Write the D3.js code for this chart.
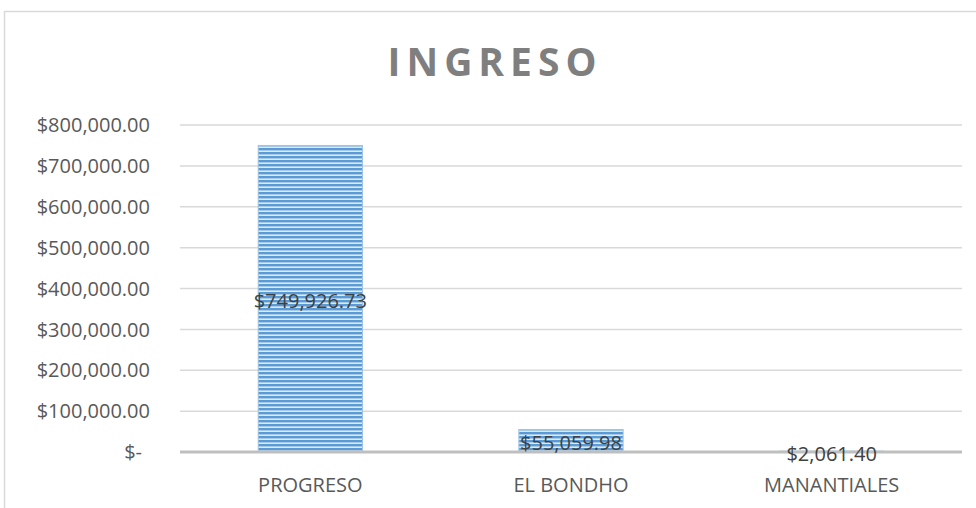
<!DOCTYPE html>
<html>
<head>
<meta charset="utf-8">
<script src="https://cdn.jsdelivr.net/npm/d3@7"></script>
<style>
  body { margin: 0; background: #fff; }
  text { font-family: "Open Sans", "Noto Sans", sans-serif; }
</style>
</head>
<body>
<div id="chart"></div>
<script>
// data
var categories = ["PROGRESO", "EL BONDHO", "MANANTIALES"];
var values = [749926.73, 55059.98, 2061.40];
var yTicks = [0, 100000, 200000, 300000, 400000, 500000, 600000, 700000, 800000];

var W = 976, H = 508;
var margin = { top: 125, right: 14, bottom: 56, left: 180 };

var svg = d3.select("#chart").append("svg")
  .attr("width", W)
  .attr("height", H);

// chart border (only top + left show)
svg.append("rect")
  .attr("x", 4.5).attr("y", 11.5)
  .attr("width", W + 20).attr("height", H + 20)
  .attr("fill", "none")
  .attr("stroke", "#d9d9d9")
  .attr("stroke-width", 1.5);

// striped fill
var defs = svg.append("defs");
var pat = defs.append("pattern")
  .attr("id", "stripes")
  .attr("patternUnits", "userSpaceOnUse")
  .attr("width", 8).attr("height", 4);
pat.append("rect").attr("width", 8).attr("height", 4).attr("fill", "#dce9f6");
pat.append("rect").attr("y", 0).attr("width", 8).attr("height", 2.4).attr("fill", "#5b9bd5");

var x = d3.scaleBand()
  .domain(categories)
  .range([margin.left, W - margin.right])
  .paddingInner(0.6)
  .paddingOuter(0.3);

var y = d3.scaleLinear()
  .domain([0, 800000])
  .range([H - margin.bottom, margin.top]);

// title
svg.append("text")
  .attr("x", 495).attr("y", 76)
  .attr("text-anchor", "middle")
  .attr("fill", "#7f7f7f")
  .style("font-size", "39px")
  .style("font-weight", "bold")
  .style("letter-spacing", "6px")
  .text("INGRESO");

// gridlines
svg.append("g")
  .selectAll("line")
  .data(yTicks.filter(function (d) { return d > 0; }))
  .enter().append("line")
  .attr("x1", margin.left).attr("x2", W - margin.right)
  .attr("y1", function (d) { return y(d); })
  .attr("y2", function (d) { return y(d); })
  .attr("stroke", "#d9d9d9")
  .attr("stroke-width", 1.5);

// y axis labels
var fmt = d3.format(",.2f");
svg.append("g")
  .selectAll("text")
  .data(yTicks)
  .enter().append("text")
  .attr("x", function (d) { return d === 0 ? 142 : 150; })
  .attr("y", function (d) { return y(d); })
  .attr("dy", "0.36em")
  .attr("text-anchor", "end")
  .attr("fill", "#595959")
  .style("font-size", "20px")
  .text(function (d) { return d === 0 ? "$-" : "$" + fmt(d); });

// bars
svg.append("g")
  .selectAll("rect")
  .data(values)
  .enter().append("rect")
  .attr("x", function (d, i) { return x(categories[i]); })
  .attr("y", function (d) { return y(d); })
  .attr("width", x.bandwidth())
  .attr("height", function (d) { return y(0) - y(d); })
  .attr("fill", "url(#stripes)")
  .attr("stroke", "#9dc3e6")
  .attr("stroke-width", 1);

// baseline
svg.append("line")
  .attr("x1", margin.left).attr("x2", W - margin.right)
  .attr("y1", y(0)).attr("y2", y(0))
  .attr("stroke", "#bfbfbf")
  .attr("stroke-width", 3);

// data labels
svg.append("g")
  .selectAll("text")
  .data(values)
  .enter().append("text")
  .attr("x", function (d, i) { return x(categories[i]) + x.bandwidth() / 2; })
  .attr("y", function (d) { return (y(d) + y(0)) / 2 + 2; })
  .attr("dy", "0.36em")
  .attr("text-anchor", "middle")
  .attr("fill", "#404040")
  .style("font-size", "20px")
  .text(function (d) { return "$" + fmt(d); });

// category labels
svg.append("g")
  .selectAll("text")
  .data(categories)
  .enter().append("text")
  .attr("x", function (d) { return x(d) + x.bandwidth() / 2; })
  .attr("y", y(0) + 33)
  .attr("dy", "0.36em")
  .attr("text-anchor", "middle")
  .attr("fill", "#595959")
  .style("font-size", "20px")
  .text(function (d) { return d; });
</script>
</body>
</html>
